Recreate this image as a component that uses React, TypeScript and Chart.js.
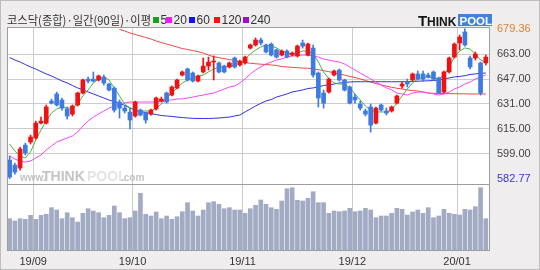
import React, { useEffect, useRef } from 'react';
import { Chart, registerables } from 'chart.js';

Chart.register(...registerables);

// ---------- data ----------
const monthTickPositions = [4.5, 23.5, 44.5, 65.5, 85.5];
const monthLabels = ['19/09', '19/10', '19/11', '19/12', '20/01'];
const priceLow = 582.77;
const priceHigh = 679.36;
const priceTicks = [582.77, 599, 615, 631, 647, 663, 679.36];

const opens = [
  594.8, 591.5, 589.6, 604.4, 606.4, 609.0, 618.6, 618.6, 632.8, 637.4,
  633.5, 627.7, 624.4, 630.3, 638.0, 647.0, 647.0, 646.4, 648.3, 643.8,
  641.2, 632.2, 628.3, 625.7, 623.2, 627.0, 625.1, 624.4, 627.7, 632.8,
  638.0, 636.7, 641.2, 649.6, 653.5, 650.9, 645.7, 651.6, 655.4, 658.0,
  657.4, 655.4, 654.8, 660.6, 656.1, 657.4, 667.0, 669.0, 672.2, 669.0,
  669.6, 665.8, 662.5, 665.1, 662.5, 661.9, 670.3, 662.5, 667.0, 650.9,
  638.0, 638.6, 649.6, 652.8, 646.4, 641.9, 635.4, 630.9, 626.4, 629.0,
  618.6, 630.3, 626.4, 626.4, 631.5, 642.5, 645.1, 646.4, 650.3, 650.3,
  649.6, 651.6, 647.7, 638.6, 651.6, 661.2, 670.3, 677.4, 660.6, 660.6,
  657.4, 657.4,
];
const closes = [
  583.8, 587.0, 601.9, 599.3, 609.6, 618.6, 619.9, 629.0, 631.5, 630.3,
  628.3, 623.2, 629.6, 638.0, 646.4, 645.7, 645.7, 649.0, 644.5, 639.9,
  627.0, 628.3, 626.4, 620.6, 632.2, 623.8, 620.6, 627.0, 634.8, 634.1,
  632.2, 641.9, 646.4, 651.6, 646.4, 645.7, 649.0, 655.4, 658.0, 658.6,
  651.6, 651.6, 657.4, 654.8, 658.6, 661.2, 669.0, 672.2, 670.3, 664.5,
  662.5, 661.2, 665.1, 661.2, 663.8, 668.3, 668.3, 669.6, 649.6, 634.8,
  631.5, 647.0, 652.2, 646.4, 639.9, 631.5, 633.5, 628.3, 624.4, 617.3,
  628.3, 627.0, 625.1, 629.0, 636.1, 643.8, 643.8, 650.3, 647.0, 647.0,
  648.3, 647.0, 638.0, 651.6, 660.6, 669.6, 674.1, 669.0, 654.8, 663.2,
  638.0, 661.2,
];
const highs = [
  597.4, 592.8, 603.2, 605.7, 610.9, 619.9, 622.5, 630.3, 634.1, 638.6,
  634.8, 629.0, 630.3, 638.6, 647.0, 648.3, 651.6, 649.6, 649.6, 644.5,
  641.9, 633.5, 629.6, 628.3, 632.8, 627.7, 625.7, 627.7, 635.4, 635.4,
  638.6, 642.5, 647.0, 652.2, 654.1, 651.6, 649.6, 660.6, 661.2, 661.9,
  658.0, 656.1, 658.0, 661.2, 659.3, 661.9, 669.6, 673.5, 673.5, 669.6,
  670.3, 666.4, 665.8, 665.8, 664.5, 669.0, 672.2, 670.3, 669.0, 651.6,
  639.9, 647.7, 652.8, 653.5, 647.0, 642.5, 637.4, 632.8, 627.7, 630.9,
  629.0, 630.9, 628.3, 629.6, 636.7, 645.1, 647.0, 650.9, 652.2, 652.2,
  650.9, 652.2, 648.3, 652.2, 661.2, 670.3, 675.4, 679.36, 661.9, 664.5,
  658.0, 662.5,
];
const lows = [
  582.77, 585.7, 588.3, 598.0, 605.1, 608.3, 618.0, 618.0, 630.9, 629.6,
  627.0, 621.2, 623.2, 629.6, 637.4, 644.5, 645.1, 645.7, 643.2, 639.3,
  625.7, 621.9, 625.1, 614.8, 622.5, 623.2, 618.6, 623.8, 627.0, 632.2,
  631.5, 636.1, 640.6, 649.0, 645.7, 645.1, 645.1, 650.9, 652.8, 646.4,
  650.9, 650.9, 654.1, 654.1, 655.4, 656.7, 666.4, 668.3, 669.0, 663.8,
  661.9, 660.6, 661.9, 660.6, 661.9, 661.2, 667.0, 661.9, 648.3, 629.0,
  628.3, 638.0, 649.0, 645.7, 639.3, 630.9, 631.5, 627.0, 623.2, 612.8,
  618.0, 626.4, 623.8, 625.7, 630.9, 641.2, 641.9, 645.7, 646.4, 645.7,
  647.7, 646.4, 637.4, 638.0, 650.9, 660.6, 665.8, 668.3, 653.5, 659.3,
  636.7, 656.1,
];
const volumes = [
  323, 300, 323, 317, 357, 317, 357, 367, 433, 410,
  323, 383, 333, 290, 377, 423, 400, 383, 333, 357,
  450, 383, 323, 333, 400, 577, 367, 350, 390, 323,
  350, 317, 343, 393, 483, 400, 350, 410, 483, 493,
  467, 423, 433, 410, 410, 377, 423, 457, 510, 467,
  433, 417, 500, 623, 633, 507, 500, 527, 593, 483,
  483, 377, 400, 393, 400, 427, 393, 400, 427, 410,
  333, 350, 350, 377, 427, 417, 360, 390, 410, 377,
  433, 333, 350, 417, 377, 367, 360, 417, 410, 443,
  633, 323,
];
const ma5 = [
  605.1, 600.6, 597.4, 596.1, 600.0, 607.7, 614.2, 620.0, 625.1, 627.7,
  629.0, 628.3, 628.3, 630.9, 636.1, 640.0, 644.5, 647.1, 648.3, 646.4,
  641.3, 636.1, 630.9, 628.3, 627.0, 626.4, 626.4, 626.4, 628.3, 630.9,
  634.8, 638.0, 641.3, 644.5, 646.4, 647.7, 649.0, 649.6, 651.6, 653.5,
  654.8, 654.8, 655.4, 656.1, 657.4, 660.0, 663.2, 665.8, 667.7, 669.0,
  668.4, 667.1, 665.1, 663.8, 663.2, 663.8, 665.1, 665.1, 663.2, 658.0,
  651.6, 647.1, 644.5, 643.8, 643.8, 641.3, 637.4, 633.5, 629.6, 627.0,
  625.8, 625.8, 625.8, 627.0, 631.6, 636.1, 640.6, 644.5, 647.1, 648.3,
  648.3, 647.7, 647.1, 649.6, 654.8, 661.2, 665.1, 667.1, 666.4, 663.2,
  659.3, 658.0,
];
const ma20 = [
  597.4, 595.4, 594.1, 593.5, 594.1, 596.1, 598.0, 601.3, 603.8, 606.4,
  607.7, 609.0, 610.3, 612.9, 616.7, 620.0, 622.5, 624.5, 626.4, 628.3,
  629.6, 630.9, 631.6, 632.2, 632.2, 632.2, 632.2, 632.2, 632.2, 632.9,
  633.5, 633.5, 634.2, 634.2, 634.8, 635.4, 636.1, 636.7, 637.4, 638.0,
  639.3, 640.6, 641.9, 642.5, 644.5, 647.1, 650.3, 652.9, 654.8, 656.7,
  658.0, 659.3, 660.0, 661.2, 661.9, 662.2, 662.5, 662.5, 661.9, 661.2,
  660.0, 659.3, 658.6, 658.0, 656.7, 654.8, 652.9, 650.9, 649.0, 647.1,
  645.1, 643.2, 641.3, 640.0, 638.0, 637.4, 636.7, 638.0, 638.6, 638.6,
  638.0, 637.4, 636.7, 637.4, 638.6, 640.6, 641.9, 643.8, 645.1, 647.1,
  648.4, 649.6,
];
const ma60 = [
  660.9, 659.3, 658.0, 656.4, 654.8, 653.5, 651.9, 650.3, 649.0, 647.4,
  645.8, 644.5, 642.9, 641.3, 640.0, 638.7, 637.4, 636.1, 634.8, 633.5,
  632.5, 631.3, 630.0, 628.4, 627.0, 626.0, 625.4, 624.8, 624.1, 623.5,
  623.2, 622.9, 622.5, 622.2, 621.9, 621.7, 621.6, 621.6, 621.6, 621.7,
  621.9, 622.2, 622.5, 623.2, 623.8, 625.8, 627.7, 629.6, 631.4, 632.9,
  633.8, 635.4, 636.4, 637.4, 638.7, 639.3, 640.0, 640.9, 641.3, 641.9,
  642.9, 643.2, 643.8, 644.5, 644.8, 645.1, 645.3, 645.3, 645.3, 645.3,
  645.3, 645.3, 645.3, 645.3, 645.3, 645.3, 645.3, 645.4, 645.6, 645.8,
  645.9, 646.1, 646.4, 647.1, 647.7, 648.4, 648.7, 649.2, 650.0, 650.3,
  650.7, 650.9,
];
const ma120Start = 21;
const ma120 = [
  679.0, 678.0, 676.7, 675.8, 674.8, 673.8, 672.9, 671.5, 670.6,
  669.6, 668.7, 667.7, 666.7, 666.1, 665.4, 664.7, 663.8, 662.5, 661.4,
  660.8, 660.2, 659.6, 659.0, 658.2, 657.7, 657.2, 656.9, 656.6, 656.4,
  656.1, 655.8, 655.1, 654.8, 654.6, 654.4, 654.1, 654.0, 653.6, 653.1,
  652.4, 651.8, 650.9, 650.3, 649.6, 648.7, 648.0, 647.1, 646.1, 645.1,
  644.1, 643.2, 642.5, 641.7, 641.1, 640.6, 640.0, 639.6, 639.3, 638.7,
  638.0, 637.8, 637.8, 637.7, 637.6, 637.6, 637.5, 637.5, 637.4, 637.4,
  637.4, 637.4,
];
const titleText = '코스닥(종합)·일간(90일)·이평';
const maLegendLabels = ['5', '20', '60', '120', '240'];

// ---------- styles ----------
const UP = '#f01212';
const DOWN = '#3d7ae2';
const VOL = '#a2abc3';
const GRID = '#cccccc';

const framePlugin = {
  id: 'frame',
  beforeDraw(chart: any) {
    const { ctx, chartArea: a, width, height } = chart;
    ctx.save();
    ctx.fillStyle = '#efeded';
    ctx.fillRect(0, 0, width, height);
    ctx.fillStyle = '#ffffff';
    ctx.fillRect(a.left, a.top, a.right - a.left, a.bottom - a.top);

    // title + MA legend
    ctx.textBaseline = 'middle';
    ctx.textAlign = 'left';
    ctx.font = '12px "Noto Sans CJK KR"';
    ctx.fillStyle = '#333333';
    ctx.fillText(titleText, 7, 20, 144);
    const sq = [
      { x: 153, c: '#18a018' },
      { x: 166, c: '#ff10ff' },
      { x: 189, c: '#1010ff' },
      { x: 214, c: '#ff1010' },
      { x: 243, c: '#9a10d0' },
    ];
    ctx.font = '12px "Liberation Sans"';
    sq.forEach((s, i) => {
      ctx.fillStyle = s.c;
      ctx.fillRect(s.x, 17, 6, 6);
      ctx.fillStyle = '#333333';
      ctx.fillText(maLegendLabels[i], s.x + 7.5, 20.5);
    });

    // THINKPOOL logo
    ctx.textBaseline = 'alphabetic';
    ctx.fillStyle = '#141414';
    ctx.font = 'bold 15px "Liberation Sans"';
    ctx.fillText('T', 418, 25.5);
    ctx.font = 'bold 12px "Liberation Sans"';
    ctx.fillText('HINK', 427, 25.5);
    ctx.fillStyle = '#3f84da';
    ctx.fillRect(458, 14, 34, 12);
    ctx.fillStyle = '#ffffff';
    ctx.font = 'bold 11.5px "Liberation Sans"';
    ctx.fillText('POOL', 459.5, 24.5);

    // outer frame
    ctx.strokeStyle = '#bdbdbd';
    ctx.lineWidth = 1;
    ctx.strokeRect(0.5, 0.5, width - 1, height - 1);
    ctx.restore();
  },
  beforeDatasetsDraw(chart: any) {
    const { ctx } = chart;
    ctx.save();
    ctx.textBaseline = 'alphabetic';
    ctx.textAlign = 'left';
    ctx.fillStyle = '#c4c4c4';
    ctx.font = 'bold 10px "Liberation Sans"';
    ctx.fillText('www.', 20, 181);
    ctx.font = 'bold 14px "Liberation Sans"';
    ctx.fillText('THINK', 42, 181);
    ctx.fillStyle = '#e4e4e4';
    ctx.fillText('POOL', 87, 181);
    ctx.fillStyle = '#c4c4c4';
    ctx.font = 'bold 10px "Liberation Sans"';
    ctx.fillText('.com', 121, 181);
    ctx.restore();
  },
  afterDraw(chart: any) {
    const { ctx, chartArea: a } = chart;
    ctx.save();
    ctx.strokeStyle = '#9e9e9e';
    ctx.lineWidth = 1;
    ctx.strokeRect(a.left + 0.5, a.top + 0.5, a.right - a.left - 1, a.bottom - a.top - 1);
    ctx.beginPath();
    ctx.moveTo(a.left, 184.5);
    ctx.lineTo(a.right, 184.5);
    ctx.stroke();
    ctx.restore();
  },
};

export default function App() {
  const ref = useRef<HTMLCanvasElement | null>(null);

  useEffect(() => {
    document.body.style.margin = '0';
    const canvas = ref.current;
    if (!canvas) return;
    Chart.defaults.font.family = '"Liberation Sans", Arial, sans-serif';

    const idx = opens.map((_, i) => i);
    const candleColor = idx.map((i) => (closes[i] >= opens[i] ? UP : DOWN));

    const chart = new Chart(canvas, {
      type: 'bar',
      data: {
        datasets: [
          {
            type: 'bar',
            label: 'body',
            data: idx.map((i) => ({ x: i, y: [opens[i], closes[i]] })),
            backgroundColor: candleColor,
            barThickness: 4,
            grouped: false,
            minBarLength: 1,
            yAxisID: 'y',
            order: 1,
          } as any,
          {
            type: 'bar',
            label: 'wick',
            data: idx.map((i) => ({ x: i, y: [lows[i], highs[i]] })),
            backgroundColor: candleColor,
            barThickness: 1,
            grouped: false,
            yAxisID: 'y',
            order: 2,
          } as any,
          {
            type: 'line',
            label: 'MA5',
            data: ma5.map((v, i) => ({ x: i, y: v })),
            borderColor: '#46b646',
            borderWidth: 1,
            pointRadius: 0,
            yAxisID: 'y',
            order: 3,
          } as any,
          {
            type: 'line',
            label: 'MA20',
            data: ma20.map((v, i) => ({ x: i, y: v })),
            borderColor: '#ff44ff',
            borderWidth: 1,
            pointRadius: 0,
            yAxisID: 'y',
            order: 4,
          } as any,
          {
            type: 'line',
            label: 'MA60',
            data: ma60.map((v, i) => ({ x: i, y: v })),
            borderColor: '#3030e8',
            borderWidth: 1,
            pointRadius: 0,
            yAxisID: 'y',
            order: 5,
          } as any,
          {
            type: 'line',
            label: 'MA120',
            data: ma120.map((v, k) => ({ x: k + ma120Start, y: v })),
            borderColor: '#f04646',
            borderWidth: 1,
            pointRadius: 0,
            yAxisID: 'y',
            order: 6,
          } as any,
          {
            type: 'bar',
            label: 'volume',
            data: volumes.map((v, i) => ({ x: i, y: v })),
            backgroundColor: VOL,
            barThickness: 4,
            grouped: false,
            yAxisID: 'yv',
            order: 10,
          } as any,
        ],
      },
      options: {
        animation: false,
        responsive: false,
        maintainAspectRatio: false,
        events: [],
        layout: { padding: { left: 7, top: 27, right: 0, bottom: 0 } },
        plugins: { legend: { display: false }, tooltip: { enabled: false } },
        scales: {
          x: {
            type: 'linear',
            offset: false,
            min: -0.5,
            max: 91.8,
            afterBuildTicks: (s: any) => {
              s.ticks = monthTickPositions.map((v) => ({ value: v }));
            },
            afterFit: (s: any) => {
              s.height = 19;
            },
            ticks: {
              autoSkip: false,
              maxRotation: 0,
              padding: 4,
              color: '#333333',
              font: { size: 11, family: '"Liberation Sans"' },
              callback: (v: any) => monthLabels[monthTickPositions.indexOf(Number(v))] ?? '',
            },
            grid: { color: GRID, drawTicks: false, lineWidth: 1, offset: false },
            border: { display: false },
          },
          y: {
            type: 'linear',
            position: 'right',
            min: 536.1,
            max: 680.6,
            afterBuildTicks: (s: any) => {
              s.ticks = priceTicks.map((v) => ({ value: v }));
            },
            afterFit: (s: any) => {
              s.width = 50;
            },
            ticks: {
              autoSkip: false,
              padding: 7,
              font: { size: 11, family: '"Liberation Sans"' },
              color: (c: any) =>
                c.tick && c.tick.value === priceHigh
                  ? '#dd8233'
                  : c.tick && c.tick.value === priceLow
                  ? '#3535dd'
                  : '#444444',
              callback: (v: any) => Number(v).toFixed(2),
            },
            grid: {
              drawTicks: false,
              color: (c: any) =>
                c.tick && (c.tick.value === priceHigh || c.tick.value === priceLow)
                  ? 'rgba(0,0,0,0)'
                  : GRID,
            },
            border: { display: false },
          },
          yv: {
            type: 'linear',
            display: false,
            min: 0,
            max: 2240,
          },
        },
      } as any,
      plugins: [framePlugin],
    });
    return () => chart.destroy();
  }, []);

  return (
    <div style={{ position: 'absolute', left: 0, top: 0, width: 540, height: 270 }}>
      <canvas ref={ref} width={540} height={270} style={{ display: 'block', width: 540, height: 270 }} />
    </div>
  );
}
